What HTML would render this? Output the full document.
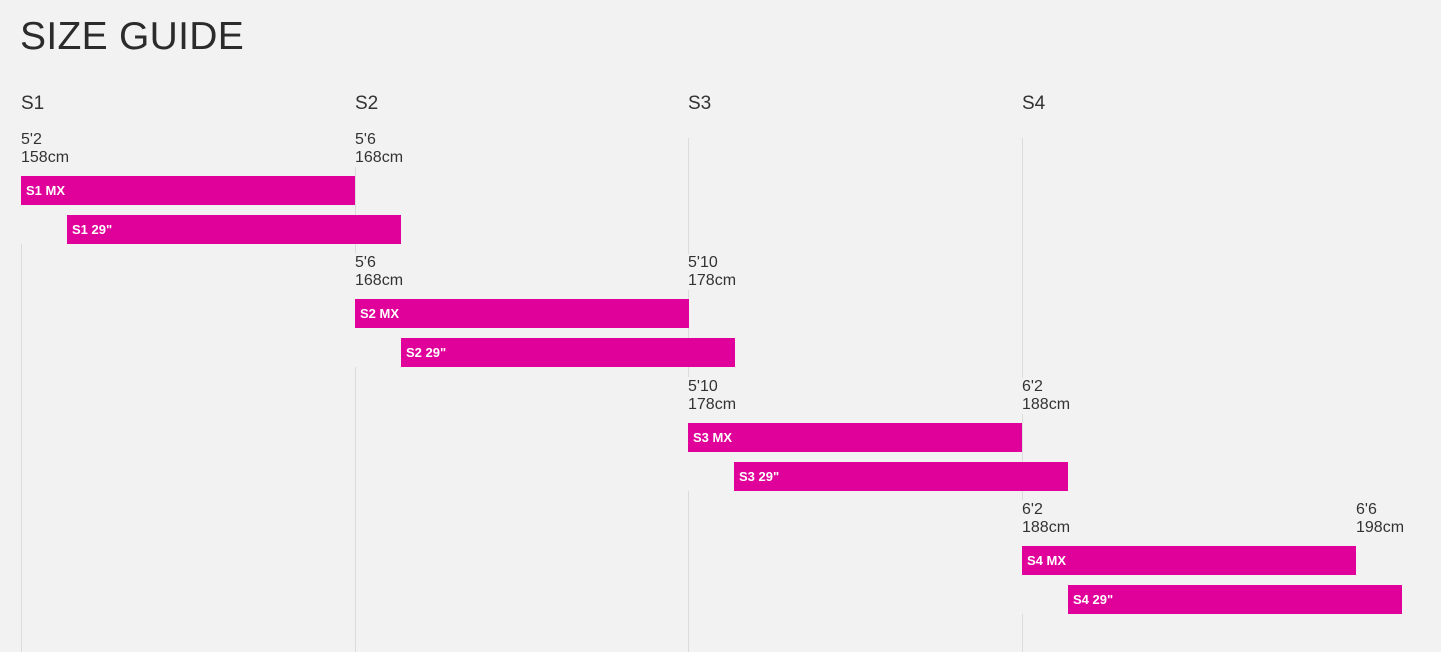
<!DOCTYPE html>
<html><head><meta charset="utf-8"><style>
body{margin:0;background:#f2f2f2;width:1441px;height:652px;overflow:hidden;position:relative;font-family:"Liberation Sans",sans-serif;color:#333}
#title{position:absolute;left:20px;top:14px;font-size:39px;letter-spacing:0.3px;color:#2b2b2b;line-height:46px}
.hdr{position:absolute;top:92px;font-size:19px;line-height:24px;color:#333}
.lbl{position:absolute;font-size:16px;line-height:18px;background:#f2f2f2;color:#333;padding-right:2px}
.grid{position:absolute;width:1px;background:#dcdcdc}
.mask{position:absolute;width:3px;background:#f2f2f2}
.bar{position:absolute;height:29px;background:#e0009a;color:#fff;font-size:13px;font-weight:bold;line-height:29px;box-sizing:border-box;padding-left:5px;white-space:nowrap}
</style></head><body>
<div id="title">SIZE GUIDE</div>
<div id="chart"></div>
<script>
const sizes=["S1","S2","S3","S4"];
const startFt=["5'2","5'6","5'10","6'2"];
const endFt=["5'6","5'10","6'2","6'6"];
const startCm=[158,168,178,188];
const endCm=[168,178,188,198];
const wheelOffsetCm=[1.38,1.38,1.38,1.38];
const x=cm=>21+(cm-158)*33.37;
const rowY=i=>176+i*123.3;
const c=document.getElementById('chart');
function mk(cls,css,txt){const d=document.createElement('div');d.className=cls;d.style.cssText=css;if(txt!=null)d.textContent=txt;c.appendChild(d);return d;}
sizes.forEach((s,i)=>{
  const top=i===0?244:138;
  const g=mk('grid',`left:${Math.round(x(startCm[i]))}px;top:${top}px;height:${652-top}px`);
  
  
  if(i>0){
    const y=rowY(i);
    const m=mk('mask',`left:${Math.round(x(startCm[i]))-1}px;top:${Math.round(y-46)}px;height:${114}px`);
    
    
  }
});
sizes.forEach((s,i)=>{
  const h=mk('hdr',`left:${Math.round(x(startCm[i]))}px`,s);
  
  
});
sizes.forEach((s,i)=>{
  const y=rowY(i);
  const l1=mk('lbl',`left:${Math.round(x(startCm[i]))}px;top:${Math.round(y-45)}px`);
  l1.innerHTML=startFt[i]+'<br>'+startCm[i]+'cm';
  
  
  const l2=mk('lbl',`left:${Math.round(x(endCm[i]))}px;top:${Math.round(y-45)}px`);
  l2.innerHTML=endFt[i]+'<br>'+endCm[i]+'cm';
  
  
  const x0=x(startCm[i]),x1=x(endCm[i]);
  const b1=mk('bar',`left:${Math.round(x0)}px;top:${Math.round(y)}px;width:${Math.round(x1-x0)}px`,s+' MX');
  
  
  const o=wheelOffsetCm[i];
  const x2=x(startCm[i]+o),x3=x(endCm[i]+o);
  const b2=mk('bar',`left:${Math.round(x2)}px;top:${Math.round(y+39)}px;width:${Math.round(x3-x2)}px`,s+' 29"');
  
  
});
</script>
</body></html>
